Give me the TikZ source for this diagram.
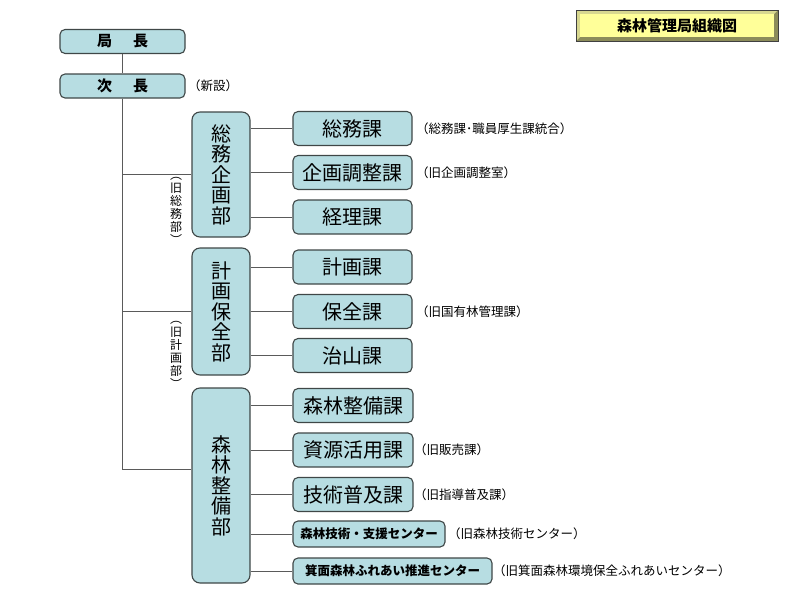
\documentclass[tikz,border=0pt]{standalone}
\usepackage{fontspec}
\newfontfamily\jp{Noto Sans CJK JP}
\definecolor{boxfill}{HTML}{B7DDE2}
\definecolor{boxline}{HTML}{3F4747}
\definecolor{connc}{HTML}{5A5A5A}
\definecolor{titlefill}{HTML}{FFFF99}
\definecolor{titledark}{HTML}{8C8C5A}
\definecolor{titlelight}{HTML}{D8D890}
\begin{document}
\begin{tikzpicture}[x=1pt,y=-1pt,
 box/.style={draw=boxline, line width=1.1pt, fill=boxfill, rounded corners=5pt, inner sep=0pt},
 topbox/.style={box, minimum width=125pt, minimum height=24pt, font=\jp\bfseries\fontsize{15}{15}\selectfont},
 dept/.style={box, minimum width=58pt, rounded corners=8pt, align=center, font=\jp\fontsize{20}{20.5}\selectfont},
 sect/.style={box, minimum width=119pt, minimum height=34pt, font=\jp\fontsize{20}{20}\selectfont},
 ctrbox/.style={box, minimum height=26pt, font=\jp\bfseries\fontsize{12.5}{12.5}\selectfont},
 note/.style={anchor=west, inner sep=0pt, font=\jp\fontsize{12.5}{12.5}\selectfont},
 vnote/.style={inner sep=0pt, align=center, font=\jp\fontsize{12}{13}\selectfont},
 conn/.style={draw=connc, line width=1pt}
]
\useasboundingbox (0,0) rectangle (800,600);

% title
\fill[titledark] (576,10) rectangle (778,41);
\fill[titlelight] (576,10) -- (778,10) -- (774,14) -- (580,14) -- (580,37) -- (576,41) -- cycle;
\node[fill=titlefill, inner sep=0pt, minimum width=194pt, minimum height=23pt,
      font=\jp\bfseries\fontsize{15}{15}\selectfont] (title) at (677,25.5) {森林管理局組織図};
\draw[black!75, line width=0.8pt] (576,10) rectangle (778,41);

% top boxes
\node[topbox] (kyoku) at (122.5,41.5) {局\hspace{21pt}長};
\node[topbox] (jicho) at (122.5,86) {次\hspace{21pt}長};
\node[note] (n0) at (188,86) {（新設）};

% departments
\node[dept, minimum height=125pt] (somu) at (221,174.5) {総\\務\\企\\画\\部};
\node[dept, minimum height=127pt] (keikaku) at (221,311.5) {計\\画\\保\\全\\部};
\node[dept, minimum height=195pt] (shinrin) at (221,485.5) {森\\林\\整\\備\\部};

\node[vnote] (v1) at (176,211) {︵\\旧\\総\\務\\部\\︶};
\node[vnote] (v2) at (176,355) {︵\\旧\\計\\画\\部\\︶};

% sections
\node[sect] (s1) at (352.5,128.5) {総務課};
\node[sect] (s2) at (352.5,172.5) {企画調整課};
\node[sect] (s3) at (352.5,217) {経理課};
\node[sect] (s4) at (352.5,267) {計画課};
\node[sect] (s5) at (352.5,311.5) {保全課};
\node[sect] (s6) at (352.5,355.5) {治山課};
\node[sect, minimum width=120pt] (s7) at (353,405.5) {森林整備課};
\node[sect, minimum width=120pt] (s8) at (353,450) {資源活用課};
\node[sect, minimum width=120pt] (s9) at (353,494.5) {技術普及課};
\node[ctrbox, minimum width=152pt] (s10) at (369,534) {森林技術・支援センター};
\node[ctrbox, minimum width=199pt] (s11) at (392.5,571) {箕面森林ふれあい推進センター};

% notes
\node[note] (a1) at (416,128.5) {（総務課･職員厚生課統合）};
\node[note] (a2) at (416,172.5) {（旧企画調整室）};
\node[note] (a3) at (416,311.5) {（旧国有林管理課）};
\node[note] (a4) at (414,450) {（旧販売課）};
\node[note] (a5) at (414,494.5) {（旧指導普及課）};
\node[note] (a6) at (448,534) {（旧森林技術センター）};
\node[note] (a7) at (493,571) {（旧箕面森林環境保全ふれあいセンター）};

% connectors
\draw[conn] (kyoku.south) -- (jicho.north);
\draw[conn] (jicho.south) |- ([yshift=0.5pt]somu.west);
\draw[conn] (jicho.south) |- (keikaku.west);
\draw[conn] (jicho.south) |- ([yshift=16.5pt]shinrin.west);
\foreach \s in {s1,s2,s3}{\draw[conn] (\s.west) -- (\s.west -| somu.east);}
\foreach \s in {s4,s5,s6}{\draw[conn] (\s.west) -- (\s.west -| keikaku.east);}
\foreach \s in {s7,s8,s9,s10,s11}{\draw[conn] (\s.west) -- (\s.west -| shinrin.east);}
\end{tikzpicture}
\end{document}
